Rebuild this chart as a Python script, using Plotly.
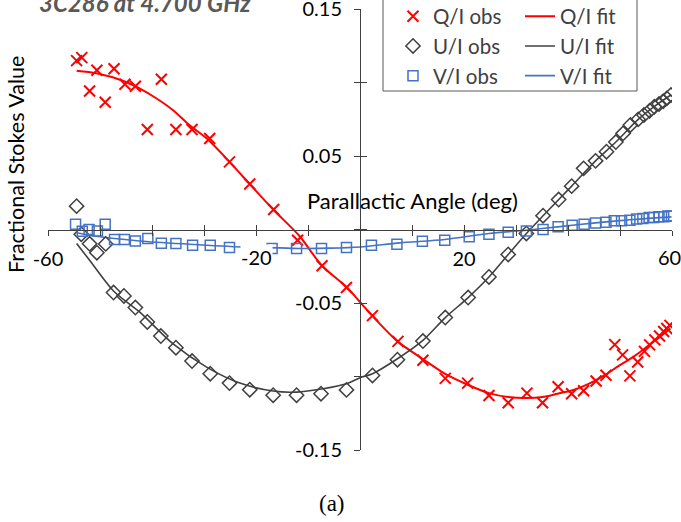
import plotly.graph_objects as go

# ---------------- data ----------------
q_obs_x = [-54.5, -53.5, -52.0, -50.6, -49.0, -47.3, -45.2, -43.2, -40.9, -38.2, -35.4, -32.3,
           -28.9, -25.1, -21.2, -16.6, -12.0, -7.3, -2.6, 2.4, 7.3, 12.1, 16.4, 20.7, 24.8,
           28.5, 32.1, 35.1, 38.1, 40.7, 43.0, 45.4, 47.3, 49.0, 50.5, 51.9, 53.4, 54.7,
           55.7, 56.7, 57.6, 58.4, 59.0, 59.6]
q_obs_y = [0.1149, 0.1169, 0.0942, 0.1083, 0.0866, 0.1094, 0.0988, 0.0974, 0.0680, 0.1022,
           0.0680, 0.0680, 0.0619, 0.0460, 0.0309, 0.0136, -0.0073, -0.0247, -0.0395, -0.0586,
           -0.0761, -0.0890, -0.1013, -0.1045, -0.1129, -0.1178, -0.1113, -0.1178, -0.1070,
           -0.1117, -0.1097, -0.1031, -0.0991, -0.0783, -0.0853, -0.0996, -0.0901, -0.0829,
           -0.0785, -0.0751, -0.0725, -0.0694, -0.0674, -0.0652]

q_fit_x = [-54.5, -50.7, -45.6, -42.4, -39.2, -36.0, -32.8, -29.5, -25.1, -21.2, -16.7, -11.6,
           -7.4, -2.5, 0.0, 2.4, 7.2, 12.0, 16.3, 20.7, 24.8, 28.5, 32.0, 35.1, 38.0, 40.7,
           43.0, 45.3, 47.3, 49.9, 52.5, 55.1, 57.6, 59.7]
q_fit_y = [0.1080, 0.1063, 0.1012, 0.0960, 0.0893, 0.0813, 0.0710, 0.0620, 0.0460, 0.0309,
           0.0136, -0.0046, -0.0243, -0.0395, -0.0493, -0.0589, -0.0761, -0.0879, -0.0981,
           -0.1056, -0.1113, -0.1140, -0.1147, -0.1140, -0.1117, -0.1095, -0.1065, -0.1026,
           -0.0986, -0.0924, -0.0868, -0.0800, -0.0732, -0.0674]

u_obs_x = [-54.5, -53.6, -52.0, -50.6, -48.9, -47.4, -45.4, -43.2, -40.9, -38.3, -35.4, -32.3,
           -28.8, -25.1, -21.2, -16.7, -12.2, -7.5, -2.6, 2.4, 7.2, 12.1, 16.4, 20.8, 24.8,
           28.5, 32.0, 35.2, 38.2, 40.7, 43.0, 45.3, 47.4, 49.2, 50.6, 52.0, 53.5, 54.6,
           55.7, 56.6, 57.5, 58.3, 59.0, 59.8]
u_obs_y = [0.0159, -0.0032, -0.0097, -0.0158, -0.0098, -0.0429, -0.0452, -0.0531, -0.0629,
           -0.0725, -0.0804, -0.0895, -0.0981, -0.1045, -0.1090, -0.1127, -0.1127, -0.1117,
           -0.1091, -0.0993, -0.0886, -0.0759, -0.0599, -0.0463, -0.0323, -0.0170, -0.0027,
           0.0094, 0.0204, 0.0295, 0.0416, 0.0467, 0.0529, 0.0595, 0.0654, 0.0711, 0.0749,
           0.0779, 0.0808, 0.0835, 0.0854, 0.0872, 0.0892, 0.0915]

u_fit_x = [-54.5, -52.0, -47.4, -42.4, -36.0, -29.5, -23.1, -16.7, -12.2, -7.1, -2.6, 0.0,
           2.4, 7.2, 12.1, 16.4, 20.8, 24.8, 28.5, 32.0, 35.3, 40.7, 45.3, 49.2, 53.5, 56.7,
           59.8]
u_fit_y = [-0.0095, -0.0209, -0.0418, -0.0561, -0.0777, -0.0936, -0.1045, -0.1099, -0.1106,
           -0.1083, -0.1049, -0.1008, -0.0981, -0.0879, -0.0754, -0.0599, -0.0463, -0.0323,
           -0.0170, -0.0027, 0.0097, 0.0295, 0.0467, 0.0595, 0.0749, 0.0840, 0.0915]

v_obs_x = [-54.7, -53.4, -52.1, -50.5, -49.0, -47.2, -45.3, -43.2, -40.8, -38.2, -35.4, -32.2,
           -28.8, -25.1, -16.9, -12.2, -7.4, -2.6, 2.2, 7.1, 12.0, 16.3, 21.0, 24.8, 28.5,
           32.0, 35.2, 38.1, 40.8, 43.1, 45.3, 47.3, 48.9, 50.3, 51.9, 53.2, 54.4, 55.6,
           56.5, 57.5, 58.4, 59.2, 59.9]
v_obs_y = [0.0036, -0.0012, 0.0000, -0.0010, 0.0036, -0.0068, -0.0068, -0.0078, -0.0061,
           -0.0093, -0.0095, -0.0107, -0.0107, -0.0123, -0.0129, -0.0129, -0.0129, -0.0123,
           -0.0107, -0.0100, -0.0080, -0.0073, -0.0050, -0.0032, -0.0018, -0.0010, 0.0000,
           0.0018, 0.0029, 0.0036, 0.0045, 0.0050, 0.0059, 0.0059, 0.0063, 0.0072, 0.0075,
           0.0082, 0.0082, 0.0086, 0.0086, 0.0091, 0.0091]

v_fit_x = [-54.5, -52.0, -42.4, -32.8, -22.5, -17.4, -11.6, -5.8, 0.0, 7.6, 16.3, 24.8, 32.0,
           38.0, 45.3, 52.5, 59.9]
v_fit_y = [-0.0022, -0.0039, -0.0078, -0.0100, -0.0119, -0.0123, -0.0129, -0.0127, -0.0119,
           -0.0091, -0.0068, -0.0027, -0.0005, 0.0018, 0.0045, 0.0068, 0.0086]

x_ticks = [-60, -50, -40, -30, -20, -10, 0, 10, 20, 30, 40, 50, 60]
x_labels = {-60: "-60", -20: "-20", 20: "20", 60: "60"}
y_ticks = [-0.15, -0.10, -0.05, 0.0, 0.05, 0.10, 0.15]
y_labels = {0.15: "0.15", 0.05: "0.05", -0.05: "-0.05", -0.15: "-0.15"}

title_text = "3C286 at 4.700 GHz"
x_title = "Parallactic Angle (deg)"
y_title = "Fractional Stokes Value"
caption = "(a)"

# ---------------- layout helpers ----------------
W, H = 681, 522
L, R, T, B = 48, 9, 9, 72
PW, PH = W - L - R, H - T - B
FONT = "Lato"
AXC = "#404040"
TICKSIZE = 20


def pxx(px):
    return (px - L) / PW


def pxy(py):
    return (H - B - py) / PH


RED = "#FF0000"
DARK = "#404040"
BLUE = "#4472C4"

fig = go.Figure()

# fitted curves
fig.add_trace(go.Scatter(x=q_fit_x, y=q_fit_y, mode="lines", name="Q/I fit", legend="legend2",
                         line=dict(color=RED, width=2, shape="spline", smoothing=0.8)))
fig.add_trace(go.Scatter(x=u_fit_x, y=u_fit_y, mode="lines", name="U/I fit", legend="legend2",
                         line=dict(color=DARK, width=1.6, shape="spline", smoothing=0.8)))
fig.add_trace(go.Scatter(x=v_fit_x, y=v_fit_y, mode="lines", name="V/I fit", legend="legend2",
                         line=dict(color=BLUE, width=1.6, shape="spline", smoothing=0.8)))

# observations
fig.add_trace(go.Scatter(x=q_obs_x, y=q_obs_y, mode="markers", name="Q/I obs",
                         marker=dict(symbol="x-thin", size=11, line=dict(color=RED, width=2))))
fig.add_trace(go.Scatter(x=u_obs_x, y=u_obs_y, mode="markers", name="U/I obs",
                         marker=dict(symbol="diamond-open", size=11, color=DARK,
                                     line=dict(color=DARK, width=1.5))))
fig.add_trace(go.Scatter(x=v_obs_x, y=v_obs_y, mode="markers", name="V/I obs",
                         marker=dict(symbol="square-open", size=10, color=BLUE,
                                     line=dict(color=BLUE, width=1.5))))

# dummy trace to create the overlay axes (inside half of crossing ticks)
fig.add_trace(go.Scatter(x=[None], y=[None], xaxis="x2", yaxis="y2", showlegend=False,
                         hoverinfo="skip", mode="markers"))

# -20 and 60 are drawn as annotations below (white box / kept inside the page edge)
x_text = [x_labels.get(v, "") if v not in (-20, 60) else "" for v in x_ticks]
y_text = [y_labels.get(round(v, 2), "") for v in y_ticks]

axis_common = dict(showgrid=False, zeroline=False, showline=True, linecolor=AXC, linewidth=1,
                   tickcolor=AXC, tickwidth=1, anchor="free", position=0.5, automargin=False,
                   ticklabeloverflow="allow")

fig.update_layout(
    width=W, height=H,
    margin=dict(l=L, r=R, t=T, b=B, pad=0, autoexpand=False),
    paper_bgcolor="white", plot_bgcolor="white",
    font=dict(family=FONT, color="black"),
    xaxis=dict(range=[-60, 60], tickmode="array", tickvals=x_ticks, ticktext=x_text,
               ticks="outside", ticklen=5, tickfont=dict(family=FONT, size=TICKSIZE, color="black"),
               ticklabelstandoff=6, **axis_common),
    yaxis=dict(range=[-0.15, 0.15], tickmode="array", tickvals=y_ticks, ticktext=y_text,
               ticks="outside", ticklen=6, tickfont=dict(family=FONT, size=TICKSIZE, color="black"),
               ticklabelstandoff=8, **axis_common),
    xaxis2=dict(range=[-60, 60], overlaying="x", tickmode="array", tickvals=x_ticks,
                ticks="inside", ticklen=5, showticklabels=False, showgrid=False, zeroline=False,
                showline=False, tickcolor=AXC, anchor="free", position=0.5),
    yaxis2=dict(range=[-0.15, 0.15], overlaying="y", tickmode="array", tickvals=y_ticks,
                ticks="inside", ticklen=6, showticklabels=False, showgrid=False, zeroline=False,
                showline=False, tickcolor=AXC, anchor="free", position=0.5),
    legend=dict(x=pxx(393), y=pxy(-3.5), xanchor="left", yanchor="top", bgcolor="rgba(0,0,0,0)",
                borderwidth=0, font=dict(family=FONT, size=20.5, color="#404040"),
                tracegroupgap=0, itemwidth=30),
    legend2=dict(x=pxx(520), y=pxy(-3.5), xanchor="left", yanchor="top", bgcolor="rgba(0,0,0,0)",
                 borderwidth=0, font=dict(family=FONT, size=20.5, color="#404040"),
                 tracegroupgap=0, itemwidth=30),
    showlegend=True,
)

# legend frame
fig.add_shape(type="rect", xref="paper", yref="paper", x0=pxx(383), x1=pxx(637),
              y0=pxy(91), y1=pxy(-5), line=dict(color="#595959", width=1),
              fillcolor="rgba(0,0,0,0)", layer="below")

# -20 tick label drawn with a white background (it hides part of the V/I curve)
fig.add_annotation(x=-20, y=0, xref="x", yref="y", text=x_labels[-20], showarrow=False,
                   yshift=-27, bgcolor="white", borderpad=0,
                   font=dict(family=FONT, size=TICKSIZE, color="black"))
# 60 tick label, nudged so it stays inside the page edge
fig.add_annotation(x=60, y=0, xref="x", yref="y", text=x_labels[60], showarrow=False,
                   yshift=-27, xshift=-3, borderpad=0,
                   font=dict(family=FONT, size=TICKSIZE, color="black"))

fig.add_annotation(x=pxx(37), y=pxy(2), xref="paper", yref="paper", text=title_text,
                   showarrow=False, xanchor="left", yanchor="middle",
                   font=dict(family=FONT, size=24, color="#595959", weight="bold", style="italic"))
fig.add_annotation(x=pxx(412), y=pxy(200), xref="paper", yref="paper", text=x_title,
                   showarrow=False, xanchor="center", yanchor="middle",
                   font=dict(family=FONT, size=22, color="black"))
fig.add_annotation(x=pxx(16), y=pxy(165), xref="paper", yref="paper", text=y_title,
                   showarrow=False, xanchor="center", yanchor="middle", textangle=-90,
                   font=dict(family=FONT, size=21.5, color="black"))
fig.add_annotation(x=pxx(332), y=pxy(503), xref="paper", yref="paper", text=caption,
                   showarrow=False, xanchor="center", yanchor="middle",
                   font=dict(family="Liberation Serif", size=23, color="black"))

fig.write_html("out.html", config={"displayModeBar": False},
               post_script="document.body.style.margin='0px';document.body.style.overflow='hidden';")
